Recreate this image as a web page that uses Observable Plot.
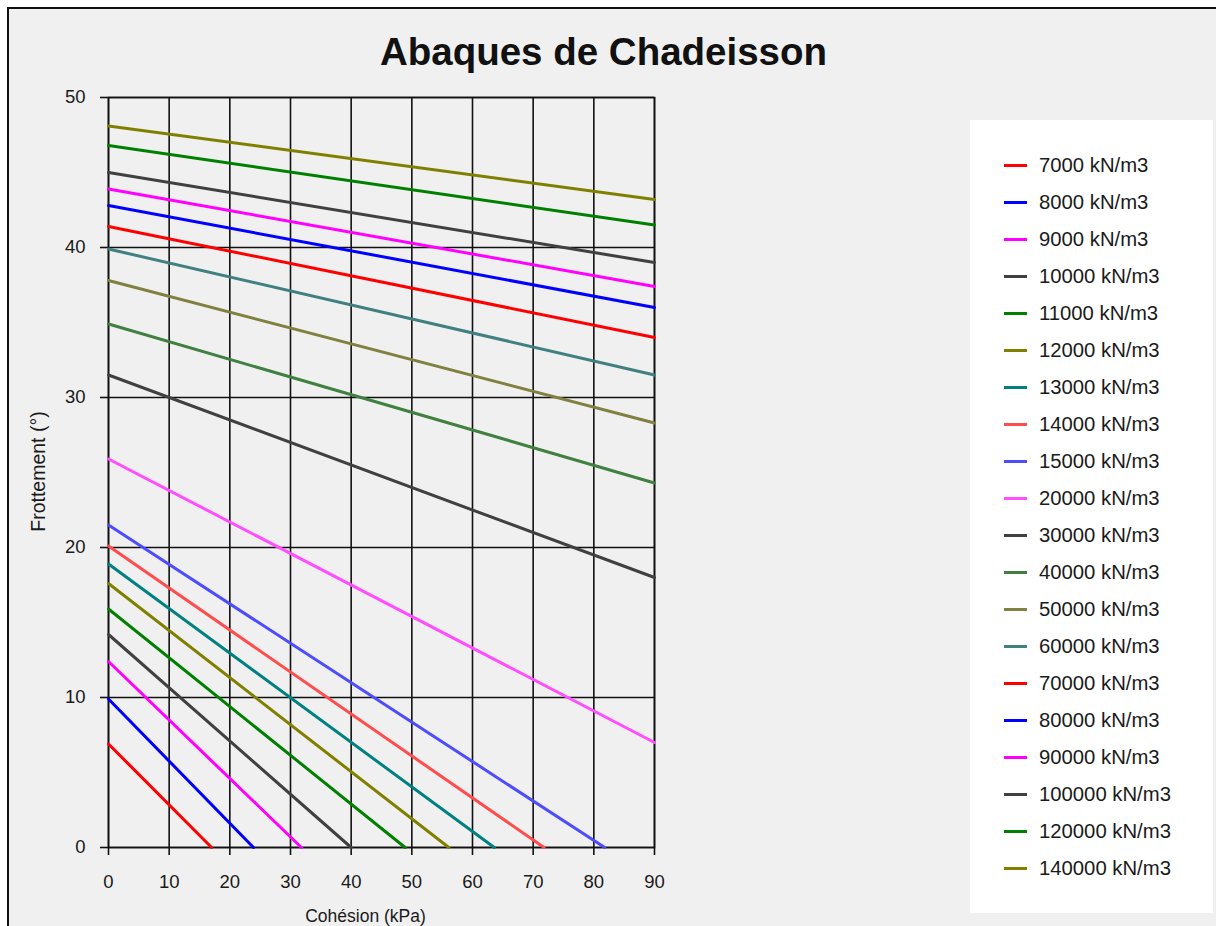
<!DOCTYPE html>
<html>
<head>
<meta charset="utf-8">
<script src="https://cdn.jsdelivr.net/npm/d3@7"></script>
<script src="https://cdn.jsdelivr.net/npm/@observablehq/plot@0.6"></script>
<style>
  html, body { margin: 0; padding: 0; background: #ffffff; }
  body { width: 1216px; height: 926px; overflow: hidden; position: relative; font-family: "Liberation Sans", Arial, sans-serif; }
  #frame { position: absolute; left: 7px; top: 7px; width: 1240px; height: 960px; border: 2px solid #111; background: #f0f0f0; box-sizing: border-box; }
  #chart { position: absolute; left: 0; top: 0; }
  #title { position: absolute; left: 0; width: 1207px; top: 33px; text-align: center; font-size: 38.5px; line-height: 38px; font-weight: bold; color: #111; }
  #legend { position: absolute; left: 970px; top: 120px; width: 243px; height: 793px; background: #ffffff; }
  .item { position: absolute; left: 0; height: 20px; display: flex; align-items: center; font-size: 20.3px; line-height: 20px; color: #1a1a1a; }
  .sw { display: inline-block; width: 23px; height: 3px; margin-left: 34px; margin-right: 12px; }
</style>
</head>
<body>
<div id="frame"></div>
<div id="chart"></div>
<div id="title">Abaques de Chadeisson</div>
<div id="legend"></div>
<script>
// Series (legend order)
const seriesNames = ["7000 kN/m3","8000 kN/m3","9000 kN/m3","10000 kN/m3","11000 kN/m3","12000 kN/m3","13000 kN/m3","14000 kN/m3","15000 kN/m3","20000 kN/m3","30000 kN/m3","40000 kN/m3","50000 kN/m3","60000 kN/m3","70000 kN/m3","80000 kN/m3","90000 kN/m3","100000 kN/m3","120000 kN/m3","140000 kN/m3"];
const seriesColors = ["#ff0000","#0000ff","#ff00ff","#404040","#008000","#808000","#008080","#ff4d4d","#4d4dff","#ff4dff","#404040","#408040","#808040","#408080","#ff0000","#0000ff","#ff00ff","#404040","#008000","#808000"];
// Start point (cohésion, frottement) and end point of each abaque line
const startCohesion = [0,0,0,0,0,0,0,0,0,0,0,0,0,0,0,0,0,0,0,0];
const startFriction = [6.9,9.9,12.4,14.2,15.9,17.6,18.9,20.1,21.5,25.9,31.5,34.9,37.8,39.9,41.4,42.8,43.9,45.0,46.8,48.1];
const endCohesion   = [17.0,23.9,31.8,40.0,48.9,56.1,63.6,71.8,81.8,90,90,90,90,90,90,90,90,90,90,90];
const endFriction   = [0,0,0,0,0,0,0,0,0,7.0,18.0,24.3,28.3,31.5,34.0,36.0,37.4,39.0,41.5,43.2];
const xTicks = [0,10,20,30,40,50,60,70,80,90];
const yTicks = [0,10,20,30,40,50];
const xLabel = "Cohésion (kPa)";
const yLabel = "Frottement (°)";

const data = [];
seriesNames.forEach((s, i) => {
  data.push({series: s, c: startCohesion[i], phi: startFriction[i]});
  data.push({series: s, c: endCohesion[i], phi: endFriction[i]});
});

const W = 680, H = 926;
const chart = Plot.plot({
  width: W, height: H,
  marginLeft: 108, marginRight: W - 654, marginTop: 97, marginBottom: H - 847,
  style: {background: "transparent", fontFamily: "Liberation Sans, Arial, sans-serif", fontSize: "18px", color: "#1a1a1a"},
  x: {domain: [0, 90]},
  y: {domain: [0, 50]},
  color: {domain: seriesNames, range: seriesColors},
  marks: [
    Plot.gridX(xTicks, {stroke: "#111", strokeOpacity: 1, strokeWidth: 1.6}),
    Plot.gridY(yTicks, {stroke: "#111", strokeOpacity: 1, strokeWidth: 1.6}),
    Plot.frame({stroke: "#111", strokeWidth: 1.6}),
    Plot.axisX(xTicks, {tickSize: 8, tickPadding: 19, tickFormat: d => d, stroke: "#111", strokeWidth: 1.6, fontSize: 18.5, label: null}),
    Plot.axisY(yTicks, {tickSize: 8, tickPadding: 15, tickFormat: d => d, stroke: "#111", strokeWidth: 1.6, fontSize: 18.5, label: null}),
    Plot.text([xLabel], {frameAnchor: "bottom", text: d => d, textAnchor: "middle", dy: 74, dx: -16, fontSize: 17.5, fill: "#1a1a1a"}),
    Plot.text([yLabel], {frameAnchor: "left", text: d => d, textAnchor: "middle", dx: -70, dy: -1, rotate: -90, fontSize: 19.5, fill: "#1a1a1a"}),
    Plot.line(data, {x: "c", y: "phi", z: "series", stroke: "series", strokeWidth: 3})
  ]
});
document.getElementById("chart").appendChild(chart);

// Legend
const legend = document.getElementById("legend");
const legendY = [165,202,239,276,313,350,387,424,461,498,535,572,609,646,683,720,757,794,831,868];
seriesNames.forEach((s, i) => {
  const d = document.createElement("div");
  d.className = "item";
  d.style.top = (legendY[i] - 120 - 10) + "px";
  const sw = document.createElement("span");
  sw.className = "sw";
  sw.style.background = seriesColors[i];
  d.appendChild(sw);
  d.appendChild(document.createTextNode(s));
  legend.appendChild(d);
});
</script>
</body>
</html>
